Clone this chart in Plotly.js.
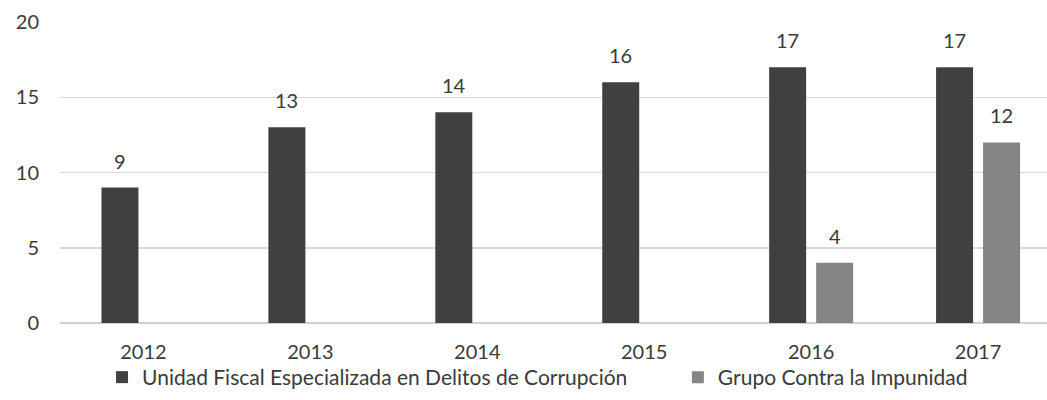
<!DOCTYPE html>
<html>
<head>
<meta charset="utf-8">
<script src="https://cdn.plot.ly/plotly-3.0.1.min.js"></script>
<style>html,body{margin:0;padding:0;background:#fff;}#chart{width:1047px;height:400px;}</style>
</head>
<body>
<div id="chart"></div>
<script>
const years = ['2012', '2013', '2014', '2015', '2016', '2017'];
const seriesNames = ['Unidad Fiscal Especializada en Delitos de Corrupción', 'Grupo Contra la Impunidad'];
const unidadFiscal = [9, 13, 14, 16, 17, 17];
const grupoImpunidad = [null, null, null, null, 4, 12];
const yTicks = [0, 5, 10, 15, 20];

const colors = ['#404040', '#858585'];
const values = [unidadFiscal, grupoImpunidad];
const FONT = 'Lato, "Open Sans", sans-serif';
const TXT = '#3a3a3a';

const traces = values.map((v, i) => ({
  type: 'bar',
  name: seriesNames[i],
  x: years,
  y: v,
  marker: {color: colors[i]},
  legend: i === 0 ? 'legend' : 'legend2',
  hoverinfo: 'x+y'
}));

// data labels above each bar, shifted to the bar's slot within its group
const annotations = [];
values.forEach((v, i) => {
  v.forEach((val, j) => {
    if (val === null) return;
    annotations.push({
      x: j, y: val, xref: 'x', yref: 'y',
      text: String(val), showarrow: false,
      xshift: i === 0 ? -23.5 : 23.5, yshift: 27,
      yanchor: 'middle', xanchor: 'center',
      font: {family: FONT, size: 20, color: TXT}
    });
  });
});

const legendBase = {
  orientation: 'h', yanchor: 'middle', xanchor: 'left', y: -0.181,
  font: {family: FONT, size: 21, color: TXT},
  bgcolor: 'rgba(0,0,0,0)',
  itemclick: false, itemdoubleclick: false
};

const layout = {
  width: 1047, height: 400,
  margin: {l: 60, r: 0, t: 22, b: 77},
  paper_bgcolor: '#ffffff', plot_bgcolor: '#ffffff',
  barmode: 'group', bargap: 0.437, bargroupgap: 0.213,
  font: {family: FONT, size: 20, color: TXT},
  xaxis: {
    type: 'category', range: [-0.5, 5.413],
    showgrid: false, zeroline: false, showline: false,
    ticks: '', ticklabelstandoff: 15,
    tickfont: {family: FONT, size: 20, color: TXT}
  },
  yaxis: {
    range: [0, 20], tickvals: yTicks,
    showgrid: true, gridcolor: '#d9d9d9', gridwidth: 1.5,
    zeroline: true, zerolinecolor: '#d0d0d0', zerolinewidth: 1.5,
    showline: false, ticks: '', ticklabelstandoff: 20,
    tickfont: {family: FONT, size: 20, color: TXT}
  },
  showlegend: true,
  legend: Object.assign({}, legendBase, {x: 0.0426}),
  legend2: Object.assign({}, legendBase, {x: 0.626}),
  annotations: annotations
};

Plotly.newPlot('chart', traces, layout, {displayModeBar: false, staticPlot: true});
</script>
</body>
</html>
